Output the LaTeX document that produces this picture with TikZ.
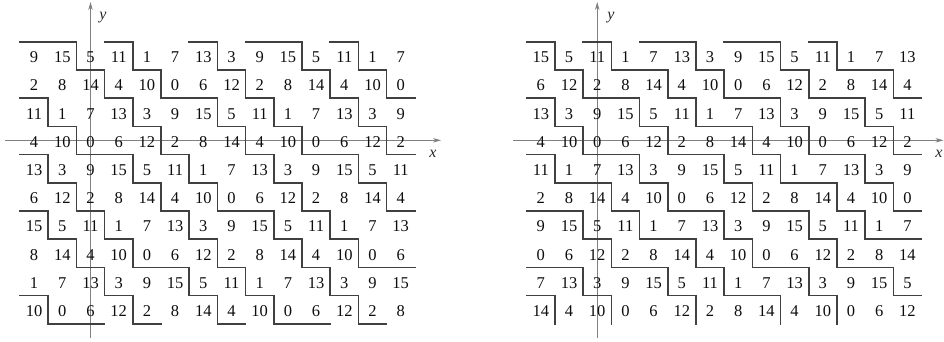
\documentclass[tikz,border=0pt]{standalone}
\usepackage{fontspec}
\setmainfont{Liberation Serif}
\usetikzlibrary{arrows.meta}
\begin{document}
\begin{tikzpicture}[x=1pt,y=-1pt,
  num/.style={inner sep=0pt, font=\fontsize{16.5}{16.5}\selectfont, text=black!95},
  tileline/.style={draw=black!75, line width=1.6pt, line cap=rect},
  axisline/.style={draw=black!50, line width=0.8pt, -{Stealth[length=8pt,width=4.5pt]}},
  axlabel/.style={font=\fontsize{16}{16}\selectfont\itshape, inner sep=0pt, text=black!85}]
\useasboundingbox (0,0) rectangle (944,341);
\def\cw{28.2}
% ---------- axes ----------
\coordinate (LXs) at (5,140.3);   \coordinate (LXe) at (441,140.3);
\coordinate (LYs) at (90.5,338);  \coordinate (LYe) at (90.5,2);
\coordinate (RXs) at (513,140.3); \coordinate (RXe) at (943.5,140.3);
\coordinate (RYs) at (597.2,338); \coordinate (RYe) at (597.2,2);
\draw[axisline] (LXs) -- (LXe);
\draw[axisline] (LYs) -- (LYe);
\draw[axisline] (RXs) -- (RXe);
\draw[axisline] (RYs) -- (RYe);
\node[axlabel] (Ly) at (103,18) {y};
\node[axlabel] (Lx) at (433,154) {x};
\node[axlabel] (Ry) at (611,18) {y};
\node[axlabel] (Rx) at (939,154) {x};
% ---------- left panel ----------
\foreach \c in {0,...,13}{
  \foreach \r in {0,...,9}{
    \pgfmathtruncatemacro\v{mod(6*\c-7*\r+169,16)}
    \node[num] (L-\c-\r) at ({20+\cw*(\c+0.5)},{41.7+\cw*(\r+0.5)+1.5}) {\v};
    \ifnum\v>8 \draw[tileline] ({20+\cw*\c},{41.7+\cw*\r}) -- ++(\cw,0); \fi
    \ifnum\c>0 \ifnum\v<6 \draw[tileline] ({20+\cw*\c},{41.7+\cw*\r}) -- ++(0,\cw); \fi\fi
  }
  \pgfmathtruncatemacro\w{mod(6*\c+3,16)}
  \ifnum\w>8 \draw[tileline] ({20+\cw*\c},{41.7+\cw*10}) -- ++(\cw,0); \fi
}
% ---------- right panel ----------
\foreach \c in {0,...,13}{
  \foreach \r in {0,...,9}{
    \pgfmathtruncatemacro\v{mod(6*\c-9*\r+175,16)}
    \node[num] (R-\c-\r) at ({526.7+\cw*(\c+0.5)},{41.7+\cw*(\r+0.5)+1.5}) {\v};
    \pgfmathtruncatemacro\skip{(\r==0)&&(\c>11)}
    \ifnum\skip=0 \ifnum\v>6 \draw[tileline] ({526.7+\cw*\c},{41.7+\cw*\r}) -- ++(\cw,0); \fi\fi
    \ifnum\c>0 \ifnum\v<6 \draw[tileline] ({526.7+\cw*\c},{41.7+\cw*\r}) -- ++(0,\cw); \fi\fi
  }
}
\end{tikzpicture}
\end{document}
